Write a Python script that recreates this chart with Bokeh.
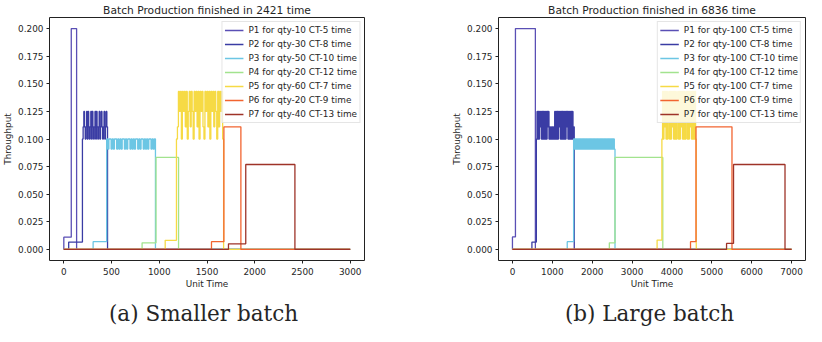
from bokeh.plotting import figure
from bokeh.layouts import row, column
from bokeh.models import FixedTicker, PrintfTickFormatter, Range1d, Div, Spacer
from bokeh.embed import file_html
from bokeh.resources import INLINE

# ---------------- data ----------------
products = ["P1", "P2", "P3", "P4", "P5", "P6", "P7"]
cycle_times = [5, 8, 10, 12, 7, 9, 13]
colors = ["#5a4fb5", "#3a3ca4", "#6cc6e4", "#a2e38e", "#f6da45", "#f26430", "#9e3328"]
y_ticks = [0, 0.025, 0.05, 0.075, 0.1, 0.125, 0.15, 0.175, 0.2]
captions = ["(a) Smaller batch", "(b) Large batch"]

# (a) smaller batch
small_qty = [10, 30, 50, 20, 60, 20, 40]
small_finish = 2421
small_horizon = 3000
small_xticks = [0, 500, 1000, 1500, 2000, 2500, 3000]
small_wait_start = [0, 51, 307, 820, 1062, 1547, 1725]
small_wait_level = [0.0111, 0.0067, 0.0070, 0.0060, 0.0083, 0.0070, 0.0051]
small_run_start = [78, 195, 449, 966, 1180, 1677, 1906]
small_run_end = [134, 458, 960, 1202, 1674, 1855, 2421]
small_p1 = [0.2]
small_p2 = [0.1, 0.111, 0.125, 0.111, 0.1, 0.111, 0.125, 0.1, 0.125, 0.111,
            0.1, 0.111, 0.125, 0.1, 0.125, 0.111, 0.1, 0.111, 0.125, 0.1,
            0.125, 0.111, 0.1, 0.111, 0.125, 0.1, 0.111, 0.125, 0.111, 0.1,
            0.111, 0.125, 0.1, 0.111, 0.125, 0.111]
small_p3 = [0.1, 0.0909, 0.1, 0.1, 0.0909, 0.1, 0.0909, 0.1, 0.1, 0.0909, 0.1,
            0.0909, 0.1, 0.0909, 0.1, 0.1, 0.0909, 0.1, 0.0909, 0.1, 0.1, 0.0909,
            0.1, 0.0909, 0.1, 0.0909, 0.1, 0.1, 0.0909, 0.1, 0.0909, 0.1, 0.1,
            0.0909, 0.1, 0.0909, 0.1, 0.0909, 0.1, 0.1, 0.0909, 0.1, 0.0909, 0.1]
small_p4 = [0.0833]
small_p5 = [0.1, 0.111, 0.143, 0.125, 0.143, 0.1, 0.143, 0.125, 0.143, 0.111,
            0.143, 0.1, 0.125, 0.143, 0.111, 0.143, 0.125, 0.1, 0.143, 0.125,
            0.143, 0.111, 0.143, 0.1, 0.143, 0.125, 0.143, 0.111, 0.1, 0.143,
            0.125, 0.143, 0.111, 0.143, 0.1, 0.143, 0.125, 0.143, 0.111, 0.143,
            0.125, 0.1, 0.143, 0.111, 0.143, 0.125, 0.143, 0.1]
small_p6 = [0.111]
small_p7 = [0.0769]

# (b) large batch
large_qty = [100, 100, 100, 100, 100, 100, 100]
large_finish = 6836
large_horizon = 7000
large_xticks = [0, 1000, 2000, 3000, 4000, 5000, 6000, 7000]
large_wait_start = [0, 488, 1374, 2430, 3628, 4466, 5370]
large_wait_level = [0.0113, 0.0067, 0.0070, 0.0060, 0.0085, 0.0070, 0.0055]
large_run_start = [75, 600, 1534, 2572, 3748, 4603, 5545]
large_run_end = [575, 1550, 2572, 3771, 4610, 5506, 6836]
large_p1 = [0.2]
large_p2 = [0.1, 0.125, 0.1, 0.125, 0.1, 0.125, 0.111, 0.125, 0.1, 0.125,
            0.1, 0.125, 0.1, 0.125, 0.1, 0.125, 0.1, 0.125, 0.111, 0.125, 0.1,
            0.111, 0.1, 0.111, 0.1, 0.111, 0.1, 0.111, 0.1,
            0.125, 0.1, 0.125, 0.1, 0.125, 0.1, 0.125, 0.111, 0.125, 0.1,
            0.125, 0.1, 0.125, 0.1, 0.125, 0.1, 0.125, 0.1, 0.125, 0.111,
            0.125, 0.1, 0.125, 0.1, 0.125, 0.1, 0.125, 0.1, 0.125, 0.1, 0.111]
large_p3 = [0.1, 0.0909, 0.1, 0.0909, 0.1, 0.0909, 0.1, 0.0909, 0.1, 0.0909,
            0.1, 0.0909, 0.1, 0.0909, 0.1, 0.0909, 0.1, 0.0909, 0.1, 0.0909,
            0.1, 0.0909, 0.1, 0.0909, 0.1, 0.0909, 0.1, 0.0909, 0.1, 0.0909,
            0.1, 0.0909, 0.1, 0.0909, 0.1, 0.0909, 0.1, 0.0909, 0.1, 0.0909,
            0.1, 0.0909, 0.1, 0.0909, 0.1, 0.0909, 0.1, 0.0909, 0.1, 0.0909,
            0.1, 0.0909, 0.1, 0.0909, 0.1, 0.0909, 0.1, 0.0909, 0.1, 0.0909]
large_p4 = [0.0833]
large_p5 = [0.1, 0.143, 0.1, 0.143, 0.111, 0.143, 0.1, 0.143, 0.1, 0.125,
            0.143, 0.1, 0.143, 0.1, 0.143, 0.111, 0.143, 0.1, 0.143, 0.1,
            0.143, 0.1, 0.125, 0.143, 0.1, 0.143, 0.1, 0.143, 0.111, 0.143,
            0.1, 0.143, 0.1, 0.143, 0.1, 0.125, 0.143, 0.1, 0.143, 0.1,
            0.143, 0.111, 0.143, 0.1, 0.143, 0.1, 0.143, 0.1, 0.143, 0.1]
large_p6 = [0.111]
large_p7 = [0.0769]

small_levels = [small_p1, small_p2, small_p3, small_p4, small_p5, small_p6, small_p7]
large_levels = [large_p1, large_p2, large_p3, large_p4, large_p5, large_p6, large_p7]

FONT = "DejaVu Sans"
TXT = "#262626"


def series(ws, wl, rs, re, levels, horizon):
    n = len(levels)
    dt = (re - rs) / n
    xs = [0, ws] + [rs + i * dt for i in range(n)] + [re, horizon]
    ys = [0, wl] + list(levels) + [0, 0]
    return xs, ys


def make_fig(title, qty, horizon, xticks, ws, wl, rs, re, levels, width, bl, br):
    p = figure(width=width, height=293,
               x_range=Range1d(-0.05 * horizon, 1.05 * horizon),
               y_range=Range1d(-0.01, 0.21),
               output_backend="svg", toolbar_location=None,
               min_border_left=bl, min_border_right=br,
               min_border_top=11, min_border_bottom=33,
               background_fill_color="white", border_fill_color="white")
    p.title.text = title
    p.title.text_font = FONT
    p.title.text_font_size = "10.7px"
    p.title.text_font_style = "normal"
    p.title.text_color = TXT
    p.title.align = "center"
    p.title.standoff = 2

    for i in range(len(products)):
        xs, ys = series(ws[i], wl[i], rs[i], re[i], levels[i], horizon)
        label = f"{products[i]} for qty-{qty[i]} CT-{cycle_times[i]} time"
        p.step(xs, ys, mode="after", line_color=colors[i], line_width=1.3,
               legend_label=label)

    p.xgrid.visible = False
    p.ygrid.visible = False
    p.outline_line_color = "#222222"
    p.outline_line_width = 1
    p.outline_line_alpha = 1

    for ax in (p.xaxis[0], p.yaxis[0]):
        ax.axis_line_color = None
        ax.major_tick_out = 3
        ax.major_tick_in = 0
        ax.minor_tick_out = 0
        ax.minor_tick_in = 0
        ax.major_tick_line_color = "#222222"
        ax.major_label_text_font = FONT
        ax.major_label_text_font_size = "8.9px"
        ax.major_label_text_color = TXT
        ax.axis_label_text_font = FONT
        ax.axis_label_text_font_size = "8.9px"
        ax.axis_label_text_font_style = "normal"
        ax.axis_label_text_color = TXT
        ax.major_label_standoff = 3
        ax.axis_label_standoff = 2
    p.xaxis.major_label_standoff = 4
    p.xaxis.axis_label_standoff = 1

    p.xaxis.ticker = FixedTicker(ticks=xticks)
    p.yaxis.ticker = FixedTicker(ticks=y_ticks)
    p.yaxis.formatter = PrintfTickFormatter(format="%.3f")
    p.xaxis.axis_label = "Unit Time"
    p.yaxis.axis_label = "Throughput"

    lg = p.legend[0]
    lg.location = "top_right"
    lg.margin = 4
    lg.padding = 2
    lg.spacing = 2
    lg.label_height = 12
    lg.glyph_height = 12
    lg.glyph_width = 19
    lg.label_standoff = 5
    lg.label_text_font = FONT
    lg.label_text_font_size = "8.9px"
    lg.label_text_color = TXT
    lg.border_line_color = "#cccccc"
    lg.border_line_width = 1
    lg.background_fill_alpha = 0.8
    return p


CAP_STYLE = {"font-family": "'DejaVu Serif', serif", "font-size": "21.5px",
             "color": "#262626", "text-align": "center",
             "white-space": "nowrap"}


def make_caption(text, width):
    html = ('<div style="padding-top:9px; line-height:24px; height:24px;">'
            + text + '</div>')
    return Div(text=html, width=width, height=33, margin=(0, 0, 0, 0),
               styles=CAP_STYLE)


p1 = make_fig(f"Batch Production finished in {small_finish} time",
              small_qty, small_horizon, small_xticks, small_wait_start, small_wait_level,
              small_run_start, small_run_end, small_levels, 449, 43, 85)
p2 = make_fig(f"Batch Production finished in {large_finish} time",
              large_qty, large_horizon, large_xticks, large_wait_start, large_wait_level,
              large_run_start, large_run_end, large_levels, 357, 45, 1)

cap_row = row(Spacer(width=43, height=33, margin=(0, 0, 0, 0)),
              make_caption(captions[0], 321),
              Spacer(width=130, height=33, margin=(0, 0, 0, 0)),
              make_caption(captions[1], 311),
              Spacer(width=1, height=33, margin=(0, 0, 0, 0)))

layout = column(row(p1, p2), cap_row)
open("out.html", "w").write(file_html(layout, INLINE))
